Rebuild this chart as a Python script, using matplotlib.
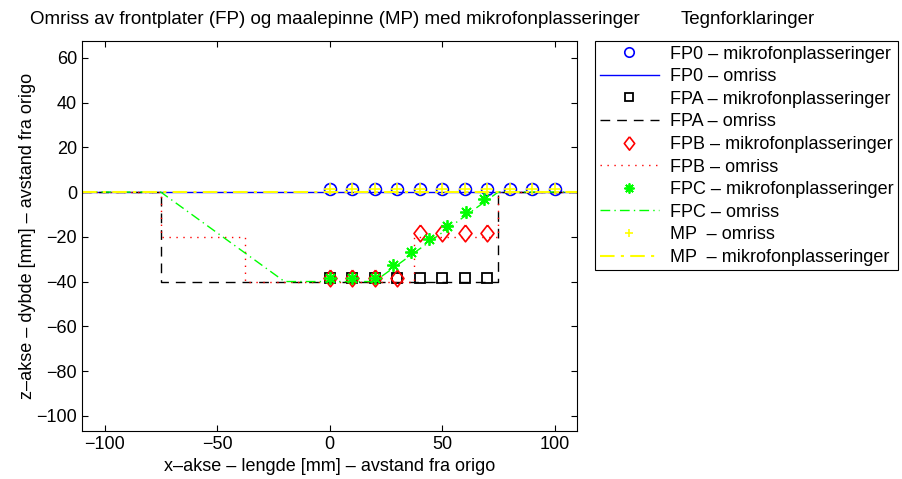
import matplotlib
matplotlib.use("Agg")
import matplotlib.pyplot as plt

plt.rcParams["font.family"] = ["Liberation Sans", "DejaVu Sans"]
plt.rcParams["font.size"] = 13

# microphone positions (x, z) in mm
fp0_mic_x = [0, 10, 20, 30, 40, 50, 60, 70, 80, 90, 100]
fp0_mic_z = [1.5, 1.5, 1.5, 1.5, 1.5, 1.5, 1.5, 1.5, 1.5, 1.5, 1.5]
fp0_outline_x = [-110, 110]
fp0_outline_z = [0, 0]

fpa_mic_x = [0, 10, 20, 30, 40, 50, 60, 70]
fpa_mic_z = [-38.5, -38.5, -38.5, -38.5, -38.5, -38.5, -38.5, -38.5]
fpa_outline_x = [-110, -75, -75, 75, 75, 110]
fpa_outline_z = [0, 0, -40, -40, 0, 0]

fpb_mic_x = [0, 10, 20, 30, 40, 50, 60, 70]
fpb_mic_z = [-38.5, -38.5, -38.5, -38.5, -18.5, -18.5, -18.5, -18.5]
fpb_outline_x = [-110, -75, -75, -37.5, -37.5, 37.5, 37.5, 75, 75, 110]
fpb_outline_z = [0, 0, -20, -20, -40, -40, -20, -20, 0, 0]

fpc_mic_x = [0, 10, 20, 28.1, 36.2, 44.3, 52.4, 60.5, 68.5]
fpc_mic_z = [-38.5, -38.5, -38.5, -32.6, -26.7, -20.9, -15.0, -9.1, -3.2]
fpc_outline_x = [-110, -75, -20, 20, 75, 110]
fpc_outline_z = [0, 0, -40, -40, 0, 0]

mp_x = [0, 10, 20, 30, 40, 50, 60, 70, 80, 90, 100]
mp_z = [1.5, 1.5, 1.5, 1.5, 1.5, 1.5, 1.5, 1.5, 1.5, 1.5, 1.5]
mp_line_x = [-110, 110]
mp_line_z = [0, 0]

labels = [
    "FP0 – mikrofonplasseringer",
    "FP0 – omriss",
    "FPA – mikrofonplasseringer",
    "FPA – omriss",
    "FPB – mikrofonplasseringer",
    "FPB – omriss",
    "FPC – mikrofonplasseringer",
    "FPC – omriss",
    "MP  – omriss",
    "MP  – mikrofonplasseringer",
]

# matlab-like diamond, a bit taller than wide
diamond = [(0, 1), (0.78, 0), (0, -1), (-0.78, 0), (0, 1)]

W, H = 902, 479
fig = plt.figure(figsize=(W / 100, H / 100), dpi=100)
ax = fig.add_axes([82 / W, 1 - 431 / H, 495 / W, 390 / H])

lw = 1.0
ax.plot(fp0_mic_x, fp0_mic_z, "o", color="b", mfc="none", ms=8.5, mew=1.2)
ax.plot(fp0_outline_x, fp0_outline_z, "-", color="b", lw=lw)
ax.plot(fpa_mic_x, fpa_mic_z, "s", color="k", mfc="none", ms=7, mew=1.3)
ax.plot(fpa_outline_x, fpa_outline_z, color="k", lw=lw, dashes=(7, 5))
ax.plot(fpb_mic_x, fpb_mic_z, linestyle="none", marker=diamond, color="r", mfc="none", ms=12, mew=1.2)
ax.plot(fpb_outline_x, fpb_outline_z, color="r", lw=lw, dashes=(1, 4))
ax.plot(fpc_mic_x, fpc_mic_z, linestyle="none", marker=(8, 2, 0), color="#00ff00", ms=9, mew=1.3)
ax.plot(fpc_outline_x, fpc_outline_z, color="#00ff00", lw=lw, dashes=(7, 3, 1, 3))
ax.plot(mp_x, mp_z, "+", color="#ffff00", ms=8, mew=1.2)
ax.plot(mp_line_x, mp_line_z, color="#ffff00", lw=1.5, dashes=(7, 3, 1.5, 3))

ax.set_xlim(-110, 110)
ax.set_ylim(-106.8, 67.5)
ax.set_xticks([-100, -50, 0, 50, 100])
ax.set_yticks([-100, -80, -60, -40, -20, 0, 20, 40, 60])
ax.tick_params(direction="in", top=True, right=True, length=4, width=0.8)
for s in ax.spines.values():
    s.set_linewidth(0.8)

ax.set_xlabel("x–akse – lengde [mm] – avstand fra origo", labelpad=4)
ax.set_ylabel("z–akse – dybde [mm] – avstand fra origo", labelpad=0)

fig.text(335 / W, 1 - 20 / H, "Omriss av frontplater (FP) og maalepinne (MP) med mikrofonplasseringer",
         ha="center", va="center", fontsize=13.5)
fig.text(748 / W, 1 - 20 / H, "Tegnforklaringer", ha="center", va="center", fontsize=13.5)

leg = fig.legend(ax.get_lines(), labels, loc="upper left",
                 bbox_to_anchor=(595 / W, 1 - 41 / H), fontsize=13,
                 frameon=True, fancybox=False, framealpha=1, edgecolor="k",
                 handlelength=3.3, handletextpad=0.6, borderpad=0.25,
                 labelspacing=0.31, borderaxespad=0, markerscale=0.8)
leg.get_frame().set_linewidth(0.8)

fig.savefig("out.png", dpi=100)
